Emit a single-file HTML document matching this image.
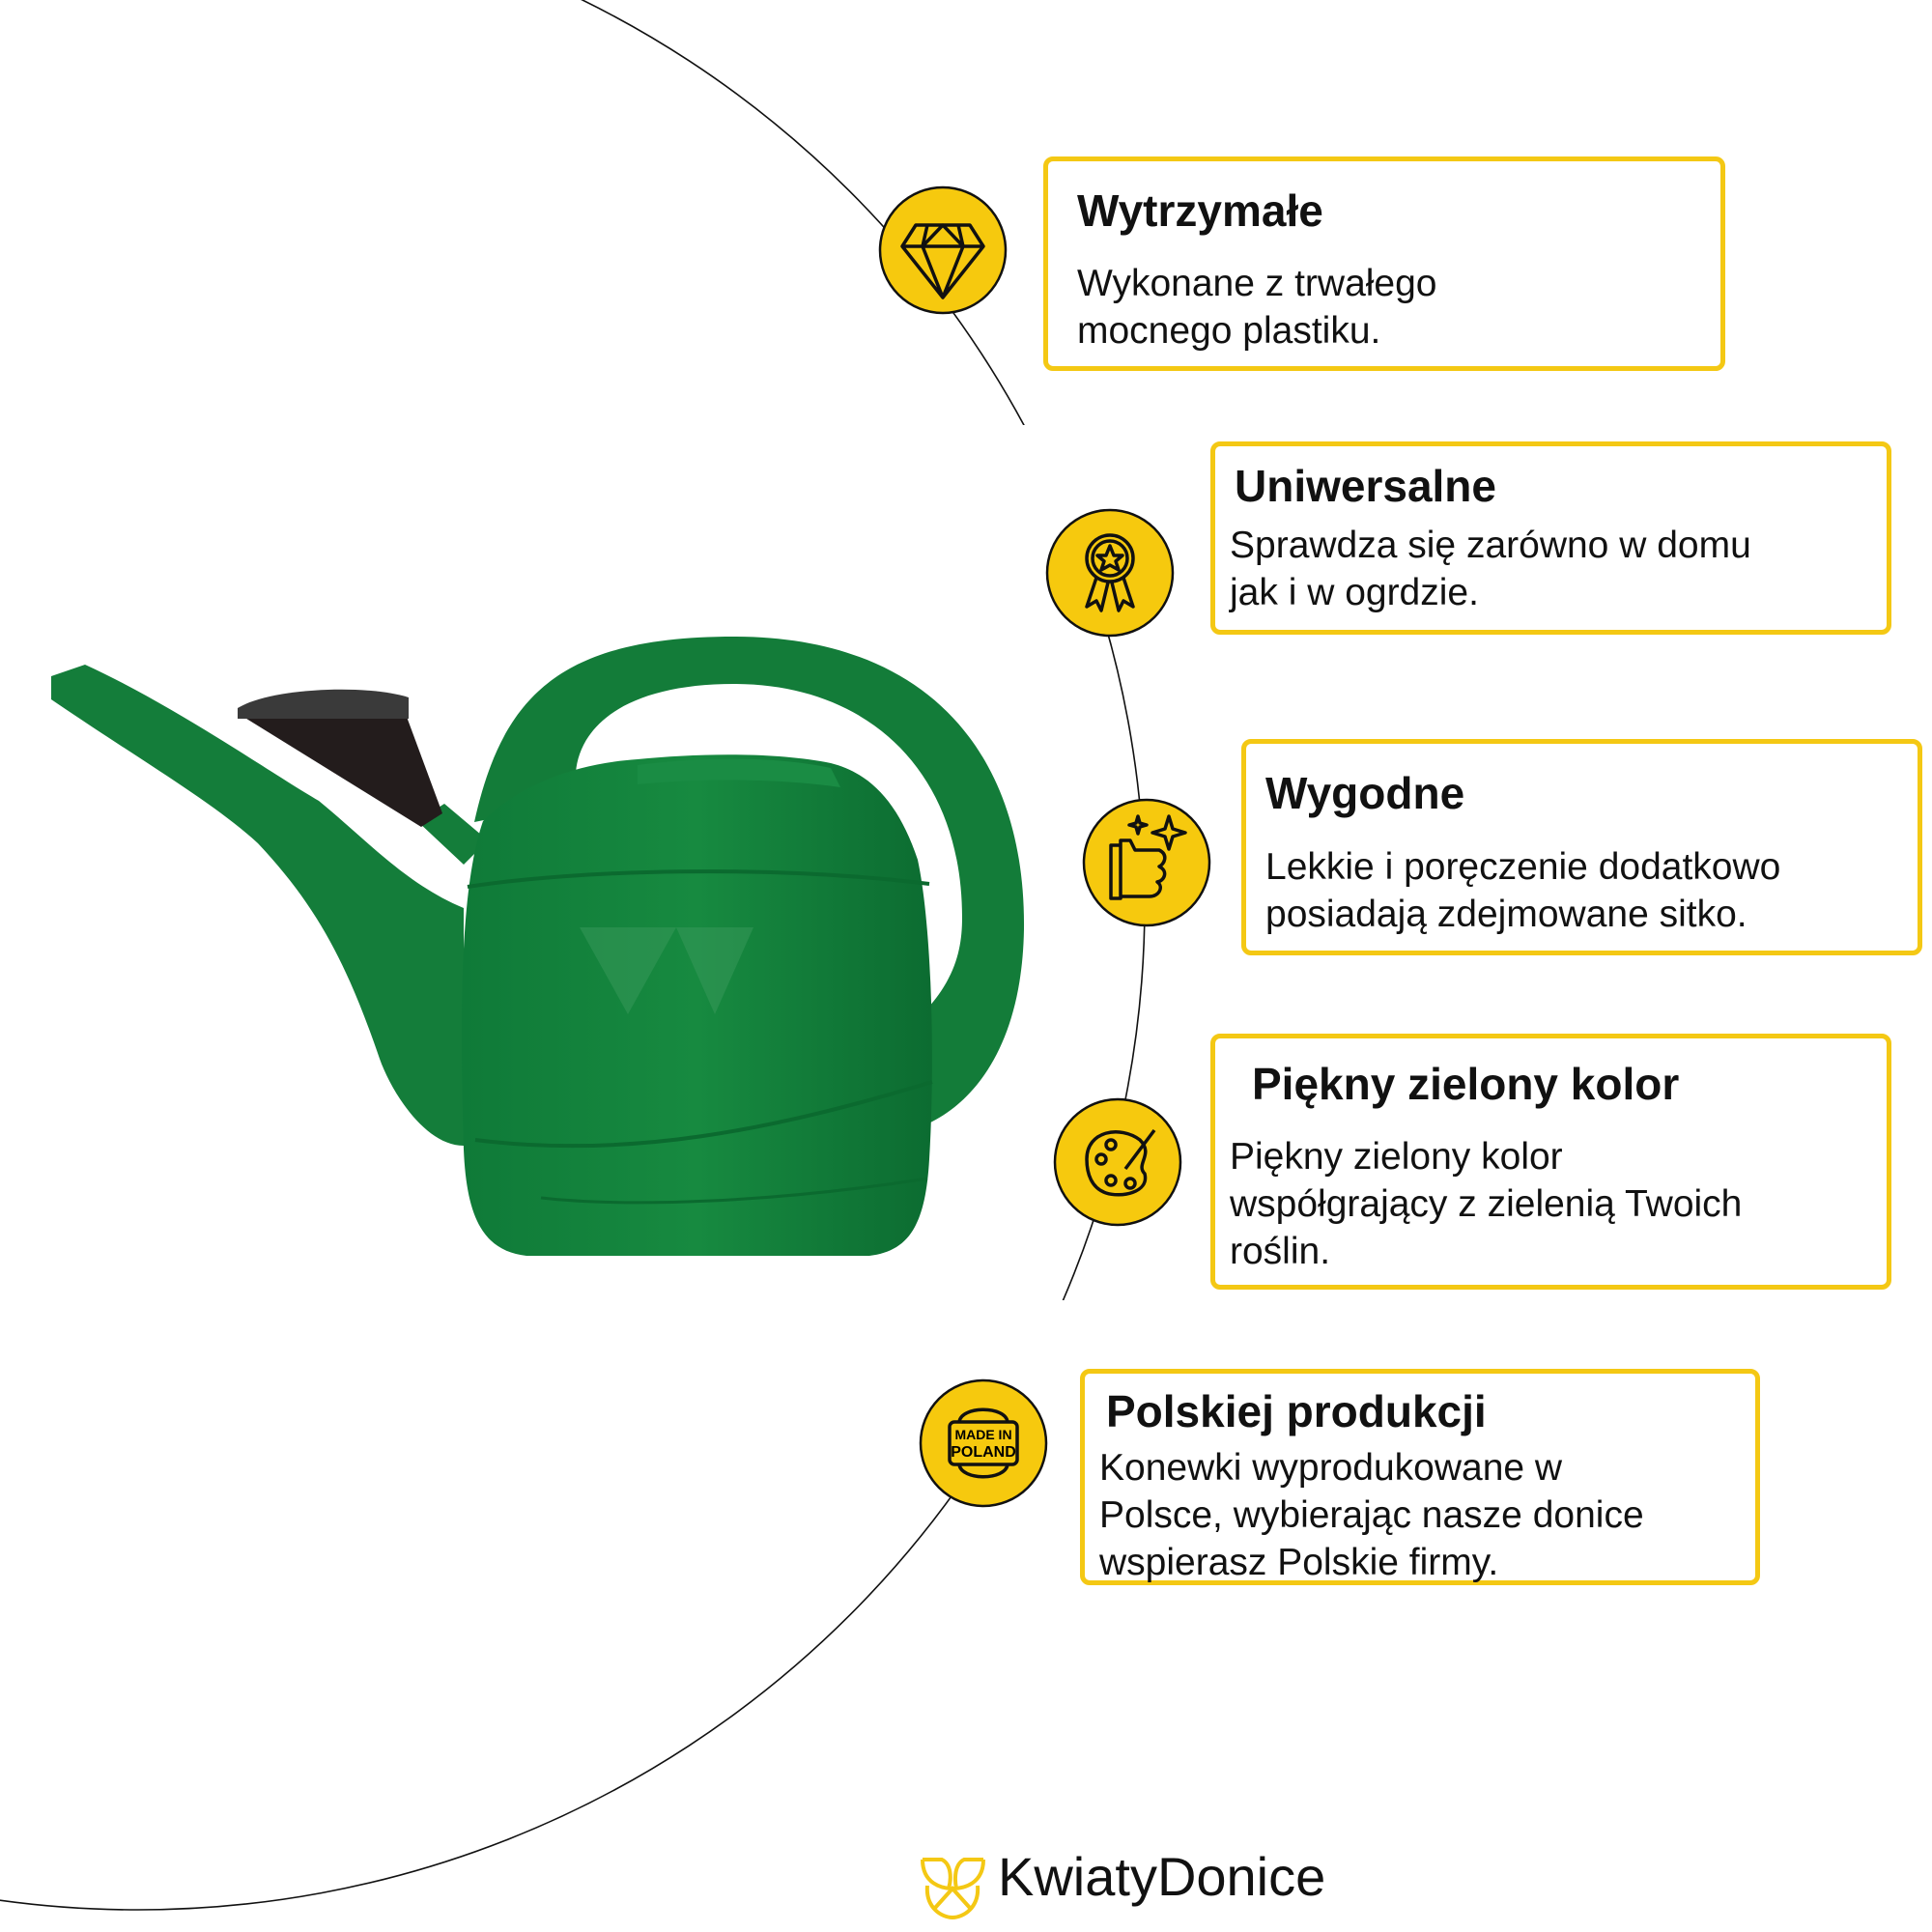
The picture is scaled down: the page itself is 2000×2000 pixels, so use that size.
<!DOCTYPE html>
<html><head><meta charset="utf-8"><style>
html,body{margin:0;padding:0;background:#fff}
body{width:2000px;height:2000px;position:relative;overflow:hidden;font-family:"Liberation Sans","DejaVu Sans",sans-serif;color:#111}
.box{position:absolute;border:5px solid #f4c814;border-radius:10px;box-sizing:border-box;background:#fff}
.box h2{margin:0;font-size:46px;font-weight:bold;position:absolute}
.box p{margin:0;font-size:39px;line-height:49px;position:absolute}
</style></head><body>
<svg width="2000" height="2000" style="position:absolute;left:0;top:0">
<defs>
<clipPath id="cl"><rect x="0" y="0" width="2000" height="440"/><rect x="0" y="593" width="2000" height="753"/><rect x="0" y="1494" width="2000" height="506"/></clipPath>
<linearGradient id="g" x1="0" x2="1"><stop offset="0" stop-color="#0f7a38"/><stop offset="0.5" stop-color="#178a40"/><stop offset="1" stop-color="#0c6c31"/></linearGradient>
</defs>
<circle cx="143" cy="935" r="1042" fill="none" stroke="#111" stroke-width="1.6" clip-path="url(#cl)"/>
<g>
<!-- handle -->
<path d="M491,851 C520,720 580,659 760,659 C960,659 1062,780 1060,962 C1058,1080 1010,1140 961,1163 L961,1043 C990,1010 996,980 996,950 C996,800 900,708 760,708 C650,708 600,750 596,800 L596,830 Z" fill="#137c39"/>
<!-- spout -->
<path d="M88,688 C180,730 280,800 330,829 C380,870 420,915 480,940 L480,1186 C440,1186 405,1130 393,1096 C360,1000 330,940 267,873 C220,830 150,790 53,724 L53,700 Z" fill="#147d3a"/>
<!-- neck -->
<path d="M432,850 L460,832 L505,870 L480,895 Z" fill="#147d3a"/>
<!-- sprinkler -->
<path d="M252,742 L421,742 L458,842 L436,856 Z" fill="#231c1c"/>
<path d="M246,733 C280,712 380,708 423,722 L423,744 L246,744 Z" fill="#3a3a3a"/>
<!-- body -->
<path d="M500,850 C540,810 600,790 660,786 C720,780 800,778 860,790 C900,800 930,830 950,890 C965,960 968,1100 962,1200 C958,1270 940,1295 900,1300 L545,1300 C500,1295 483,1260 480,1190 C476,1050 476,920 500,850 Z" fill="url(#g)"/>
<path d="M660,792 C720,784 800,782 860,795 L870,815 C800,805 720,806 660,812 Z" fill="#1a8c44"/>
<path d="M484,918 C600,900 800,895 962,915" stroke="#0b6a2f" stroke-width="4" fill="none"/>
<path d="M492,1180 C650,1200 800,1170 965,1120" stroke="#0b6a2f" stroke-width="4" fill="none"/>
<path d="M560,1240 C650,1250 800,1245 960,1220" stroke="#0b6a2f" stroke-width="3" fill="none"/>
<path d="M600,960 L700,960 L650,1050 Z M700,960 L780,960 L740,1050 Z" fill="#3a9a5c" opacity="0.5"/>
</g>
<g fill="#f6c90e" stroke="#111" stroke-width="2.5">
<circle cx="976" cy="259" r="65"/>
<circle cx="1149" cy="593" r="65"/>
<circle cx="1187" cy="893" r="65"/>
<circle cx="1157" cy="1203" r="65"/>
<circle cx="1018" cy="1494" r="65"/>
</g>
<g fill="none" stroke="#111" stroke-width="3.5" stroke-linejoin="round">
<path d="M948,233 L1004,233 L1018,255 L976,308 L934,255 Z M934,255 L1018,255 M960,233 L955,255 L976,308 L997,255 L992,233 M955,255 L976,233 L997,255"/>
<circle cx="1149" cy="578" r="24"/><circle cx="1149" cy="578" r="18"/>
<path d="M1149,565 L1153,575 L1162,575 L1155,581 L1158,590 L1149,585 L1140,590 L1143,581 L1136,575 L1145,575 Z"/>
<path d="M1135,598 L1125,628 L1135,622 L1140,632 L1147,603 M1163,598 L1173,628 L1163,622 L1158,632 L1151,603"/>
<path d="M1160,870 L1170,870 L1175,880 L1200,880 C1210,885 1205,895 1200,897 C1210,902 1205,912 1198,913 C1205,918 1200,928 1190,928 L1160,928 Z M1150,875 L1160,875 L1160,930 L1150,930 Z"/>
<path d="M1210,845 L1214,858 L1227,862 L1214,866 L1210,879 L1206,866 L1193,862 L1206,858 Z M1178,845 L1180,852 L1187,854 L1180,856 L1178,863 L1176,856 L1169,854 L1176,852 Z"/>
<path d="M1125,1200 C1125,1170 1160,1165 1180,1180 C1195,1195 1175,1205 1185,1215 C1190,1235 1160,1240 1145,1235 C1130,1230 1125,1215 1125,1200 Z"/>
<circle cx="1140" cy="1200" r="5"/><circle cx="1150" cy="1222" r="5"/><circle cx="1170" cy="1225" r="5"/><circle cx="1150" cy="1185" r="5"/>
<path d="M1165,1210 L1195,1170"/>
<rect x="983" y="1472" width="70" height="44" rx="5"/>
<path d="M993,1472 C995,1455 1041,1455 1043,1472 M993,1516 C995,1533 1041,1533 1043,1516"/>
</g>
<text x="1018" y="1490" font-family="Liberation Sans" font-weight="bold" font-size="14" text-anchor="middle">MADE IN</text>
<text x="1018" y="1508" font-family="Liberation Sans" font-weight="bold" font-size="16" text-anchor="middle">POLAND</text>
<g fill="none" stroke="#f4c814" stroke-width="4">
<path d="M955,1925 L975,1925 C985,1930 985,1945 982,1955 M1018,1925 L998,1925 C988,1930 988,1945 990,1955 M955,1925 C955,1950 975,1955 986,1955 M1018,1925 C1018,1950 998,1955 986,1955 M960,1952 C958,1975 975,1985 986,1985 C997,1985 1014,1975 1012,1952 M968,1975 L986,1955 L1004,1975"/>
</g>
<text x="1033" y="1962" font-family="Liberation Sans" font-size="56" fill="#111">KwiatyDonice</text>
</svg>

<div class="box" style="left:1080px;top:162px;width:706px;height:222px">
<h2 style="left:30px;top:24px">Wytrzymałe</h2>
<p style="left:30px;top:102px">Wykonane z trwałego<br>mocnego plastiku.</p></div>
<div class="box" style="left:1253px;top:457px;width:705px;height:200px">
<h2 style="left:20px;top:14px">Uniwersalne</h2>
<p style="left:15px;top:78px">Sprawdza się zarówno w domu<br>jak i w ogrdzie.</p></div>
<div class="box" style="left:1285px;top:765px;width:705px;height:224px">
<h2 style="left:20px;top:24px">Wygodne</h2>
<p style="left:20px;top:103px">Lekkie i poręczenie dodatkowo<br>posiadają zdejmowane sitko.</p></div>
<div class="box" style="left:1253px;top:1070px;width:705px;height:265px">
<h2 style="left:38px;top:20px">Piękny zielony kolor</h2>
<p style="left:15px;top:98px">Piękny zielony kolor<br>współgrający z zielenią Twoich<br>roślin.</p></div>
<div class="box" style="left:1118px;top:1417px;width:704px;height:224px">
<h2 style="left:22px;top:12px">Polskiej produkcji</h2>
<p style="left:15px;top:73px">Konewki wyprodukowane w<br>Polsce, wybierając nasze donice<br>wspierasz Polskie firmy.</p></div>
</body></html>
